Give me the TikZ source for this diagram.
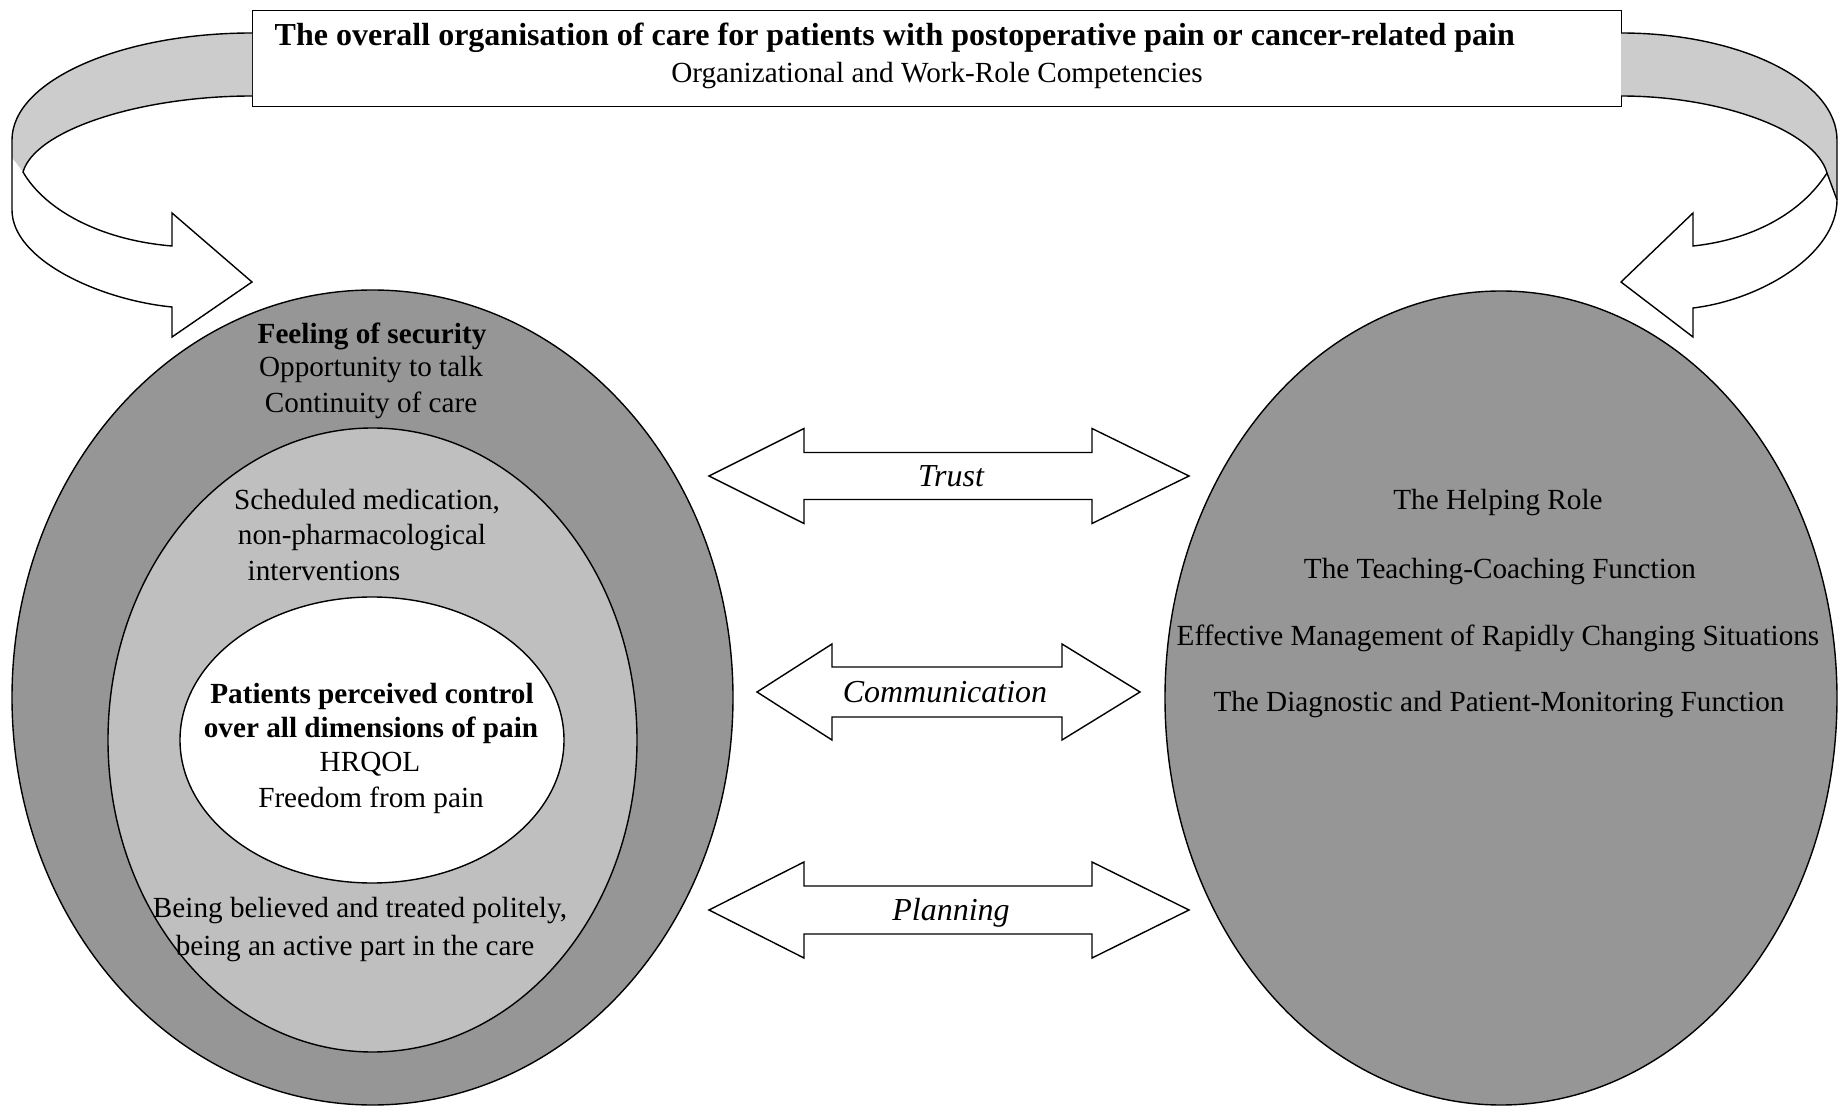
\documentclass[tikz,border=0pt]{standalone}
\usepackage{fontspec}
\setmainfont{Liberation Serif}
\usetikzlibrary{shapes.geometric}
\definecolor{darkg}{gray}{0.59}
\definecolor{midg}{gray}{0.75}
\definecolor{bandg}{gray}{0.80}
\newcommand{\blockdarrow}[8]{%
  % #1 left tip, #2 left base, #3 right base, #4 right tip, #5 y centre, #6 half shaft, #7 half head, #8 name
  \draw[blockarrow] ({#1},{#5}) -- ({#2},{#5-#7}) -- ({#2},{#5-#6}) -- ({#3},{#5-#6}) -- ({#3},{#5-#7})
    -- ({#4},{#5}) -- ({#3},{#5+#7}) -- ({#3},{#5+#6}) -- ({#2},{#5+#6}) -- ({#2},{#5+#7}) -- cycle;
  \coordinate (#8) at ({(#1+#4)/2},{#5});}
\begin{document}
\begin{tikzpicture}[x=0.5pt,y=-0.5pt,line width=0.7pt,line join=miter,
  txt/.style={anchor=base,inner sep=0pt,font=\fontsize{14.6}{17}\selectfont},
  lbl/.style={anchor=base,inner sep=0pt,font=\fontsize{16}{19}\selectfont\itshape},
  blockarrow/.style={draw=black,fill=white,line width=0.7pt},
  oval/.style={ellipse,draw=black,inner sep=0pt,line width=0.7pt}]
\useasboundingbox (0,0) rectangle (1838,1106);
\fill[white] (0,0) rectangle (1838,1106);

% left nested ellipses
\node[oval,fill=darkg,minimum width=360.5pt,minimum height=407.5pt] (outer) at (372.5,697.5) {};
\node[oval,fill=midg,minimum width=264.5pt,minimum height=312pt] (middle) at (372.5,740) {};
\node[oval,fill=white,minimum width=192pt,minimum height=143pt] (inner) at (372,740) {};
% right ellipse
\node[oval,fill=darkg,minimum width=336pt,minimum height=407pt] (right) at (1501,698) {};

% top box
\node[draw=black,fill=white,minimum width=684.5pt,minimum height=48pt,inner sep=0pt,anchor=north west,line width=0.7pt] (topbox) at (252,10) {};
\node[txt,anchor=base west,font=\fontsize{16}{19}\selectfont] (title) at (274,46) {\textbf{The overall organisation of care for patients with postoperative pain or cancer-related pain}};
\node[txt] (subtitle) at (937,83) {Organizational and Work-Role Competencies};

% left curved arrow
\fill[bandg] (252,33) .. controls (120,33) and (12,81) .. (12,140) -- (12,158) -- (23,172)
  .. controls (35,130) and (140,96) .. (252,96) -- cycle;
\fill[white] (23,172) -- (12,158) -- (12,210) .. controls (12,260) and (100,300) .. (172,307)
  -- (172,337) -- (252,282) -- (172,213) -- (172,246) .. controls (100,240) and (45,210) .. (23,172) -- cycle;
\draw (252,33) .. controls (120,33) and (12,81) .. (12,140) -- (12,210)
  .. controls (12,260) and (100,300) .. (172,307) -- (172,337) -- (252,282) -- (172,213) -- (172,246)
  .. controls (100,240) and (45,210) .. (23,172) .. controls (35,130) and (140,96) .. (252,96);

% right curved arrow
\fill[bandg] (1621,33) .. controls (1740,33) and (1837,81) .. (1837,140) -- (1837,200) -- (1827,173)
  .. controls (1815,130) and (1720,96) .. (1621,96) -- cycle;
\fill[white] (1827,173) -- (1837,200) .. controls (1837,255) and (1760,300) .. (1693,308)
  -- (1693,337) -- (1621,282) -- (1693,213) -- (1693,246) .. controls (1750,240) and (1800,215) .. (1827,173) -- cycle;
\draw (1621,33) .. controls (1740,33) and (1837,81) .. (1837,140) -- (1837,200)
  .. controls (1837,255) and (1760,300) .. (1693,308) -- (1693,337) -- (1621,282) -- (1693,213) -- (1693,246)
  .. controls (1750,240) and (1800,215) .. (1827,173) .. controls (1815,130) and (1720,96) .. (1621,96);
\draw (1827,173) -- (1837,200);

% double block arrows
\blockdarrow{709}{804}{1092}{1189}{476}{23.5}{47.5}{trustc}
\blockdarrow{757}{832}{1062}{1140}{692}{25}{48}{commc}
\blockdarrow{709}{804}{1092}{1189}{910}{24}{48}{planc}
\node[lbl] (trust) at (951,487) {Trust};
\node[lbl] (comm) at (945,703) {Communication};
\node[lbl] (plan) at (951,921) {Planning};

% left texts
\node[txt] (feel) at (372,344) {\textbf{Feeling of security}};
\node[txt] (talk) at (371,377) {Opportunity to talk};
\node[txt] (cont) at (371,413) {Continuity of care};
\node[txt] (sched) at (367,510) {Scheduled medication,};
\node[txt] (nonph) at (362,545) {non-pharmacological};
\node[txt,anchor=base west] (interv) at (247,581) {interventions};
\node[txt] (pat1) at (372,704) {\textbf{Patients perceived control}};
\node[txt] (pat2) at (371,738) {\textbf{over all dimensions of pain}};
\node[txt] (hrq) at (370,772) {HRQOL};
\node[txt] (free) at (371,808) {Freedom from pain};
\node[txt] (bel1) at (360,917) {Being believed and treated politely,};
\node[txt] (bel2) at (355,955) {being an active part in the care};

% right texts
\node[txt] (r1) at (1498,510) {The Helping Role};
\node[txt] (r2) at (1500,579) {The Teaching-Coaching Function};
\node[txt] (r3) at (1498,646) {Effective Management of Rapidly Changing Situations};
\node[txt] (r4) at (1499,712) {The Diagnostic and Patient-Monitoring Function};
\end{tikzpicture}
\end{document}
